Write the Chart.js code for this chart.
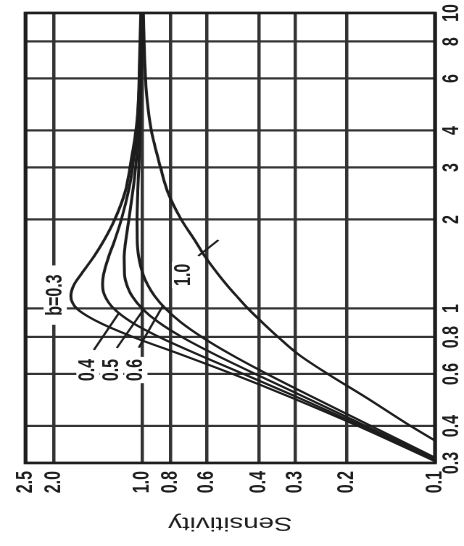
<!DOCTYPE html>
<html>
<head>
<meta charset="utf-8">
<script src="https://cdn.jsdelivr.net/npm/chart.js@4.4.1/dist/chart.umd.min.js"></script>
<style>
  html, body { margin: 0; padding: 0; background: #fff; overflow: hidden; }
  /* the chart is drawn upright and then turned a quarter turn, as on the scan */
  #wrap {
    position: absolute; left: 0; top: 0;
    width: 546px; height: 320px;
    transform-origin: 0 0;
    transform: translate(0px, 546px) scale(1.45, 1) rotate(-90deg);
  }
  #myChart { width: 546px; height: 320px; }
</style>
</head>
<body>
<div id="wrap"><canvas id="myChart" width="546" height="320"></canvas></div>
<script>
// frequency ratio (x) and sensitivity (y)
const frequencyRatio = [0.3, 0.4, 0.5, 0.6, 0.7, 0.8, 0.9, 1.0, 1.1, 1.2, 1.3, 1.5, 1.7, 2.0, 2.5, 3, 4, 5, 7, 10];
const sensB03 = [0.097, 0.183, 0.31, 0.49, 0.74, 1.07, 1.41, 1.67, 1.75, 1.71, 1.62, 1.46, 1.35, 1.24, 1.14, 1.10, 1.05, 1.03, 1.02, 1.01];
const sensB04 = [0.096, 0.178, 0.294, 0.45, 0.647, 0.872, 1.088, 1.25, 1.338, 1.364, 1.354, 1.299, 1.241, 1.177, 1.113, 1.078, 1.043, 1.028, 1.014, 1.007];
const sensB05 = [0.094, 0.172, 0.277, 0.41, 0.566, 0.73, 0.881, 1.0, 1.081, 1.127, 1.148, 1.152, 1.137, 1.109, 1.075, 1.053, 1.031, 1.02, 1.01, 1.005];
const sensB06 = [0.092, 0.165, 0.26, 0.374, 0.499, 0.624, 0.739, 0.833, 0.905, 0.956, 0.991, 1.027, 1.039, 1.041, 1.034, 1.026, 1.016, 1.011, 1.006, 1.003];
const sensB10 = [0.074, 0.121, 0.172, 0.232, 0.293, 0.343, 0.39, 0.435, 0.475, 0.513, 0.548, 0.61, 0.66, 0.735, 0.82, 0.865, 0.93, 0.96, 0.98, 0.99];

const sensTicks = [0.1, 0.2, 0.3, 0.4, 0.6, 0.8, 1.0, 2.0, 2.5];
const freqTicks = [0.3, 0.4, 0.6, 0.8, 1, 2, 3, 4, 6, 8, 10];

const curveNames = ['b=0.3', '0.4', '0.5', '0.6', '1.0'];
const curveValues = [sensB03, sensB04, sensB05, sensB06, sensB10];

// where the curve names sit, and where their pointer lines end (data units)
const nameSpots = [
  { text: 'b=0.3', f: 1.11, s: 1.98, pad: 9 },
  { text: '0.4', f: 0.619, s: 1.53, pad: 2, from: [0.724, 1.46], to: [0.965, 1.2] },
  { text: '0.5', f: 0.619, s: 1.27, pad: 2, from: [0.735, 1.22], to: [0.99, 0.99] },
  { text: '0.6', f: 0.619, s: 1.05, pad: 2, from: [0.737, 1.026], to: [1.02, 0.85] },
  { text: '1.0', f: 1.30, s: 0.722, pad: 2, from: [1.506, 0.643], to: [1.705, 0.549] }
];

const ink = '#1d1d1d';
const gridInk = '#333333';

const curveNamesPlugin = {
  id: 'curveNames',
  afterDatasetsDraw(chart) {
    const { ctx, scales: { x, y } } = chart;
    ctx.save();
    ctx.font = 'bold 16px "Liberation Sans", Arial, sans-serif';
    ctx.textBaseline = 'middle';
    ctx.textAlign = 'center';
    nameSpots.forEach(spot => {
      if (spot.from) {
        ctx.strokeStyle = ink;
        ctx.lineWidth = 1.6;
        ctx.beginPath();
        ctx.moveTo(x.getPixelForValue(spot.from[0]), y.getPixelForValue(spot.from[1]));
        ctx.lineTo(x.getPixelForValue(spot.to[0]), y.getPixelForValue(spot.to[1]));
        ctx.stroke();
      }
      const px = x.getPixelForValue(spot.f);
      const py = y.getPixelForValue(spot.s);
      const w = ctx.measureText(spot.text).width;
      ctx.fillStyle = '#fff';
      ctx.fillRect(px - w / 2 - spot.pad, py - 8, w + spot.pad * 2, 16);
      ctx.fillStyle = ink;
      ctx.fillText(spot.text, px, py);
    });
    ctx.restore();
  }
};

const framePlugin = {
  id: 'frame',
  beforeDatasetsDraw(chart) {
    const { ctx, chartArea: a } = chart;
    ctx.save();
    ctx.strokeStyle = ink;
    ctx.lineWidth = 2.6;
    ctx.strokeRect(a.left, a.top, a.right - a.left, a.bottom - a.top);
    ctx.restore();
  }
};

const ctx = document.getElementById('myChart').getContext('2d');
const chart = new Chart(ctx, {
  type: 'line',
  data: {
    labels: frequencyRatio,
    datasets: curveValues.map((vals, i) => ({
      label: curveNames[i],
      data: vals.map((v, j) => ({ x: frequencyRatio[j], y: v })),
      borderColor: ink,
      borderWidth: 2,
      pointRadius: 0,
      fill: false,
      cubicInterpolationMode: 'monotone'
    }))
  },
  options: {
    responsive: false,
    animation: false,
    devicePixelRatio: 2,
    layout: { padding: { top: 16, right: 13, left: 8, bottom: 0 } },
    plugins: { legend: { display: false }, tooltip: { enabled: false } },
    scales: {
      x: {
        type: 'logarithmic',
        min: 0.3,
        max: 10,
        afterBuildTicks: scale => { scale.ticks = freqTicks.map(v => ({ value: v })); },
        afterFit: scale => { scale.height = 20; },
        ticks: {
          autoSkip: false,
          maxRotation: 0,
          padding: 2,
          color: ink,
          font: { family: '"Liberation Sans", Arial, sans-serif', size: 16, weight: 'bold' },
          callback: v => (v < 1 ? v.toFixed(1) : String(v))
        },
        grid: { color: gridInk, lineWidth: 2.2, drawTicks: false },
        border: { display: false }
      },
      y: {
        type: 'logarithmic',
        min: 0.1,
        max: 2.5,
        afterBuildTicks: scale => { scale.ticks = sensTicks.map(v => ({ value: v })); },
        afterFit: scale => { scale.width = 75; },
        title: {
          display: true,
          text: 'Sensitivity',
          color: ink,
          padding: { top: 4, bottom: 0 },
          font: { family: '"Liberation Sans", Arial, sans-serif', size: 19 }
        },
        ticks: {
          autoSkip: false,
          padding: 8,
          color: ink,
          font: { family: '"Liberation Sans", Arial, sans-serif', size: 16, weight: 'bold' },
          callback: v => v.toFixed(1)
        },
        grid: { color: gridInk, lineWidth: 2.2, drawTicks: false },
        border: { display: false }
      }
    }
  },
  plugins: [framePlugin, curveNamesPlugin]
});
</script>
</body>
</html>
